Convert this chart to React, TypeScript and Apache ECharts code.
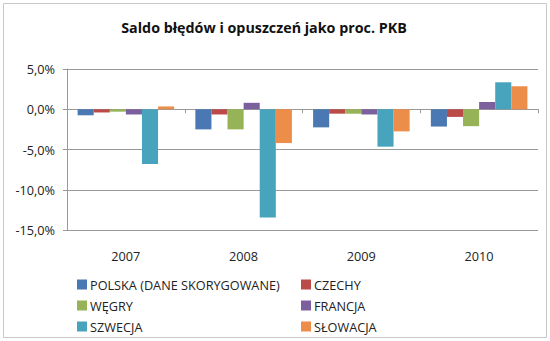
import React, { useEffect, useRef } from "react";
import * as echarts from "echarts";

const categories = ["2007", "2008", "2009", "2010"];
const seriesNames = [
  "POLSKA (DANE SKORYGOWANE)",
  "CZECHY",
  "WĘGRY",
  "FRANCJA",
  "SZWECJA",
  "SŁOWACJA",
];
const polska = [-0.75, -2.5, -2.25, -2.15];
const czechy = [-0.4, -0.65, -0.55, -0.95];
const wegry = [-0.3, -2.5, -0.55, -2.1];
const francja = [-0.65, 0.8, -0.65, 0.9];
const szwecja = [-6.8, -13.45, -4.65, 3.35];
const slowacja = [0.35, -4.2, -2.75, 2.85];
const seriesValues = [polska, czechy, wegry, francja, szwecja, slowacja];
const colors = ["#4A78B2", "#BA4B48", "#96B357", "#7B609D", "#47A4BC", "#EC8D4A"];

const FONT = "'Open Sans', 'Noto Sans', sans-serif";

export default function App() {
  const ref = useRef<HTMLDivElement>(null);
  useEffect(() => {
    if (!ref.current) return;
    const chart = echarts.init(ref.current, null, { renderer: "svg" });
    const legendBase = {
      orient: "vertical" as const,
      icon: "rect",
      itemWidth: 10,
      itemHeight: 10,
      itemGap: 8,
      top: 273,
      textStyle: { fontFamily: FONT, fontSize: 12.7, color: "#222", padding: [0, 0, 0, -2] },
    };
    chart.setOption({
      animation: false,
      color: colors,
      title: {
        text: "Saldo błędów i opuszczeń jako proc. PKB",
        left: 259,
        textAlign: "center",
        top: 15,
        textStyle: { fontFamily: FONT, fontSize: 14.3, fontWeight: "bold", color: "#111" },
      },
      graphic: [
        {
          type: "rect",
          shape: { x: 3.5, y: 3.5, width: 543, height: 334 },
          style: { fill: "none", stroke: "#c8c8c8", lineWidth: 1 },
          silent: true,
        },
      ],
      legend: [
        { ...legendBase, left: 72, data: [seriesNames[0], seriesNames[2], seriesNames[4]] },
        { ...legendBase, left: 296, data: [seriesNames[1], seriesNames[3], seriesNames[5]] },
      ],
      grid: { left: 67, right: 12, top: 69, bottom: 111, containLabel: false },
      xAxis: [
        {
          type: "category",
          data: categories,
          position: "bottom",
          axisLine: { show: false, onZero: false },
          axisTick: { show: false },
          axisLabel: { margin: 19, fontFamily: FONT, fontSize: 12.7, color: "#222" },
        },
        {
          type: "category",
          data: categories,
          position: "bottom",
          axisLine: { show: true, onZero: true, lineStyle: { color: "#999" } },
          axisTick: { show: true, length: 4, inside: false, lineStyle: { color: "#999" } },
          axisLabel: { show: false },
        },
      ],
      yAxis: {
        type: "value",
        min: -15,
        max: 5,
        interval: 5,
        axisLine: { show: true, lineStyle: { color: "#999" } },
        axisTick: { show: true, length: 4, lineStyle: { color: "#999" } },
        splitLine: { show: true, lineStyle: { color: "#999" } },
        axisLabel: {
          margin: 12,
          fontFamily: FONT,
          fontSize: 12.7,
          color: "#222",
          formatter: (v: number) => v.toFixed(1).replace(".", ",") + "%",
        },
      },
      series: seriesNames.map((name, i) => ({
        name,
        type: "bar",
        xAxisIndex: 0,
        data: seriesValues[i],
        barGap: "0%",
        barCategoryGap: "18%",
      })),
    });
    return () => chart.dispose();
  }, []);
  return (
    <div
      ref={ref}
      style={{ position: "fixed", left: 0, top: 0, width: 550, height: 341, background: "#fff" }}
    />
  );
}
